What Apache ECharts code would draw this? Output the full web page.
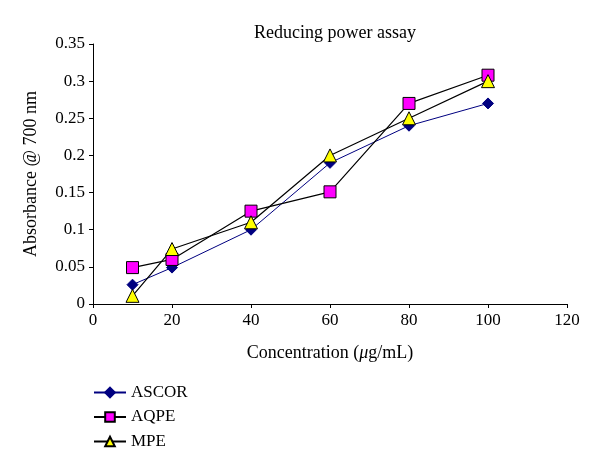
<!DOCTYPE html>
<html><head><meta charset="utf-8">
<script src="https://cdn.jsdelivr.net/npm/echarts@6/dist/echarts.min.js"></script>
<style>html,body{margin:0;padding:0;background:#fff}#c{width:600px;height:474px}</style>
</head><body><div id="c"></div>
<script>
var concentrations = [10, 20, 40, 60, 80, 100];
var ascor = [0.026, 0.049, 0.100, 0.190, 0.240, 0.270];
var aqpe  = [0.049, 0.060, 0.125, 0.151, 0.270, 0.308];
var mpe   = [0.011, 0.074, 0.110, 0.200, 0.250, 0.300];
var xTicks = [0, 20, 40, 60, 80, 100, 120];
var yTicks = [0, 0.05, 0.1, 0.15, 0.2, 0.25, 0.3, 0.35];

function pairs(v){ return concentrations.map(function(x,i){ return [x, v[i]]; }); }
var font = '"Liberation Serif", "DejaVu Serif", serif';
var chart = echarts.init(document.getElementById('c'));
chart.setOption({
  animation: false,
  backgroundColor: '#fff',
  title: { text: 'Reducing power assay', left: 330, top: 19, textAlign: 'center',
    textStyle: { fontFamily: font, fontSize: 18, fontWeight: 'normal', color: '#000' } },
  grid: { left: 93, right: 33, top: 44, bottom: 170 },
  legend: {
    orient: 'vertical', left: 88, top: 379, itemWidth: 32, itemHeight: 12, itemGap: 7.5,
    textStyle: { fontFamily: font, fontSize: 17, color: '#000' },
    data: ['ASCOR', 'AQPE', 'MPE']
  },
  xAxis: {
    type: 'value', min: 0, max: 120, interval: 20,
    name: 'Concentration ({i|\u03bc}g/mL)', nameLocation: 'middle', nameGap: 40,
    nameTextStyle: { fontFamily: font, fontSize: 18, color: '#000',
      rich: { i: { fontFamily: font, fontSize: 18, fontStyle: 'italic', color: '#000' } } },
    axisLine: { lineStyle: { color: '#000', width: 1 } },
    axisTick: { show: true, length: 4, lineStyle: { color: '#000' } },
    axisLabel: { fontFamily: font, fontSize: 17, color: '#000', margin: 8,
      formatter: function(v){ return xTicks.indexOf(v) >= 0 ? String(v) : ''; } },
    splitLine: { show: false }
  },
  yAxis: {
    type: 'value', min: 0, max: 0.35, interval: 0.05,
    name: 'Absorbance @ 700 nm', nameLocation: 'middle', nameGap: 53,
    nameTextStyle: { fontFamily: font, fontSize: 18, color: '#000' },
    axisLine: { show: true, lineStyle: { color: '#000', width: 1 } },
    axisTick: { show: true, length: 4, lineStyle: { color: '#000' } },
    axisLabel: { fontFamily: font, fontSize: 17, color: '#000', margin: 8,
      formatter: function(v){
        var r = Math.round(v * 100) / 100;
        return yTicks.indexOf(r) >= 0 ? String(r) : '';
      } },
    splitLine: { show: false }
  },
  series: [
    { name: 'ASCOR', type: 'line', data: pairs(ascor), symbol: 'diamond', symbolSize: 11,
      lineStyle: { color: '#000080', width: 1 },
      itemStyle: { color: '#000080', borderColor: '#000080', borderWidth: 1 } },
    { name: 'AQPE', type: 'line', data: pairs(aqpe), symbol: 'rect', symbolSize: 12,
      lineStyle: { color: '#000', width: 1.2 },
      itemStyle: { color: '#ff00ff', borderColor: '#000', borderWidth: 1 } },
    { name: 'MPE', type: 'line', data: pairs(mpe), symbol: 'triangle', symbolSize: 13,
      lineStyle: { color: '#000', width: 1.2 },
      itemStyle: { color: '#ffff00', borderColor: '#000', borderWidth: 1 } }
  ]
});
</script></body></html>
